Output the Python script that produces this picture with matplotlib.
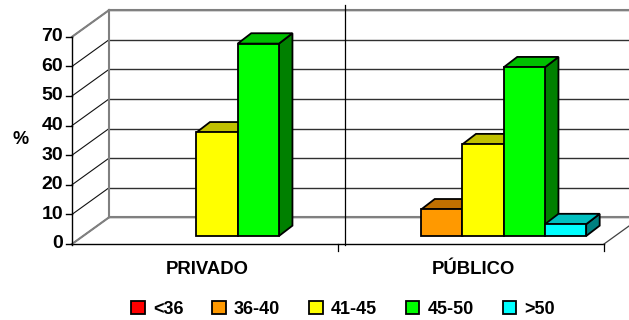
import matplotlib
matplotlib.use("Agg")
import matplotlib.pyplot as plt
from matplotlib.patches import Polygon, Patch

# data (%)
categories = ["PRIVADO", "PÚBLICO"]
age_groups = ["<36", "36-40", "41-45", "45-50", ">50"]
lt36 = [0, 0]
g36_40 = [0, 9]
g41_45 = [35, 31]
g45_50 = [65, 57]
gt50 = [0, 4]
series = [lt36, g36_40, g41_45, g45_50, gt50]
yticks = [0, 10, 20, 30, 40, 50, 60, 70]

front_cols = ["#FF0000", "#FF9900", "#FFFF00", "#00FF00", "#00FFFF"]
top_cols = ["#C00000", "#C07000", "#C0C000", "#00C000", "#00C0C0"]
side_cols = ["#800000", "#804D00", "#808000", "#008000", "#008080"]

plt.rcParams["font.family"] = ["Liberation Sans", "DejaVu Sans"]
plt.rcParams["font.weight"] = "bold"
narrow = ["Liberation Sans Narrow", "Liberation Sans"]

# fake 3D geometry (x in category units, y in value units)
PX_X, PX_Y = 266.0, 2.96
wall_dx, wall_dy = 37 / PX_X, 9.0
bar_base = 2.7
bar_dx, bar_dy = 13.5 / PX_X, 3.5
bar_w, bar_start = 0.155, 0.158
xmin, xmax = -72 / PX_X, 557 / PX_X

fig = plt.figure(figsize=(6.29, 3.2), dpi=100)
ax = fig.add_axes([0, 0, 1, 1])
ax.set_xlim(xmin, xmax)
ax.set_ylim((244 - 320) / PX_Y, 244 / PX_Y)
ax.axis("off")

# walls
for v in yticks:
    ax.plot([wall_dx, xmax], [v + wall_dy] * 2, color="#303030", lw=1.0, zorder=1)
    ax.plot([0, wall_dx], [v, v + wall_dy], color="#101010", lw=0.8, zorder=1)
ax.plot([wall_dx, wall_dx], [wall_dy, 70 + wall_dy], color="#808080", lw=1.5, zorder=2)
ax.plot([0, wall_dx], [70, 70 + wall_dy], color="#808080", lw=1.5, zorder=2)
ax.plot([wall_dx, xmax], [70 + wall_dy] * 2, color="#808080", lw=1.5, zorder=2)
ax.plot([wall_dx, xmax], [wall_dy] * 2, color="#808080", lw=1.5, zorder=2)
ax.plot([1.026, 1.026], [80.7, -0.3], color="black", lw=0.9, zorder=2)

# floor
ax.plot([0, 2], [0, 0], color="black", lw=1.0, zorder=3)
ax.plot([2, 2 + wall_dx], [0, wall_dy], color="#404040", lw=0.9, zorder=3)
ax.plot([0, wall_dx], [0, wall_dy], color="#808080", lw=1.5, zorder=3)
for c in [1, 2]:
    ax.plot([c, c], [0, -2.2], color="black", lw=0.9, zorder=3)

# front value axis
ax.plot([0, 0], [-0.3, 70], color="black", lw=1.0, zorder=3)
for v in yticks:
    ax.plot([-6 / PX_X, 0], [v, v], color="black", lw=1.0, zorder=3)
    ax.text(-9 / PX_X, v, str(v), ha="right", va="center", fontsize=14,
            fontweight="bold", family=narrow)
ax.text(-51 / PX_X, (244 - 140) / PX_Y, "%", ha="center", va="center",
        fontsize=13, fontweight="bold", family=narrow)

# bars
for j, vals in enumerate(series):
    xs = [i + bar_start + j * bar_w for i, v in enumerate(vals) if v > 0]
    hs = [v for v in vals if v > 0]
    idx = [i for i, v in enumerate(vals) if v > 0]
    bars = ax.bar(xs, hs, width=bar_w, bottom=bar_base, align="edge",
                  color=front_cols[j], edgecolor="black", linewidth=1.3)
    for b, x0, h, i in zip(bars, xs, hs, idx):
        z = 10 + i * 20 + j * 2
        top = bar_base + h
        x1 = x0 + bar_w
        side = Polygon([(x1, bar_base), (x1, top), (x1 + bar_dx, top + bar_dy),
                        (x1 + bar_dx, bar_base + bar_dy)], closed=True,
                       facecolor=side_cols[j], edgecolor="black", lw=1.3, zorder=z)
        lid = Polygon([(x0, top), (x1, top), (x1 + bar_dx, top + bar_dy),
                       (x0 + bar_dx, top + bar_dy)], closed=True,
                      facecolor=top_cols[j], edgecolor="black", lw=1.3, zorder=z)
        ax.add_patch(side)
        ax.add_patch(lid)
        b.set_zorder(z + 1)

# category labels
for i, name in enumerate(categories):
    ax.text(i + 0.51, (244 - 270) / PX_Y, name, ha="center", va="center",
            fontsize=13.3, fontweight="bold")

handles = [Patch(facecolor=c, edgecolor="black", lw=1.3) for c in front_cols]
fig.legend(handles, age_groups, loc="center", bbox_to_anchor=(343 / 629, 1 - 309 / 320),
           ncol=5, frameon=False, handlelength=0.75, handleheight=0.75,
           handletextpad=0.45, columnspacing=1.6, prop={"size": 13, "weight": "bold"})

fig.savefig("out.png", dpi=100)
